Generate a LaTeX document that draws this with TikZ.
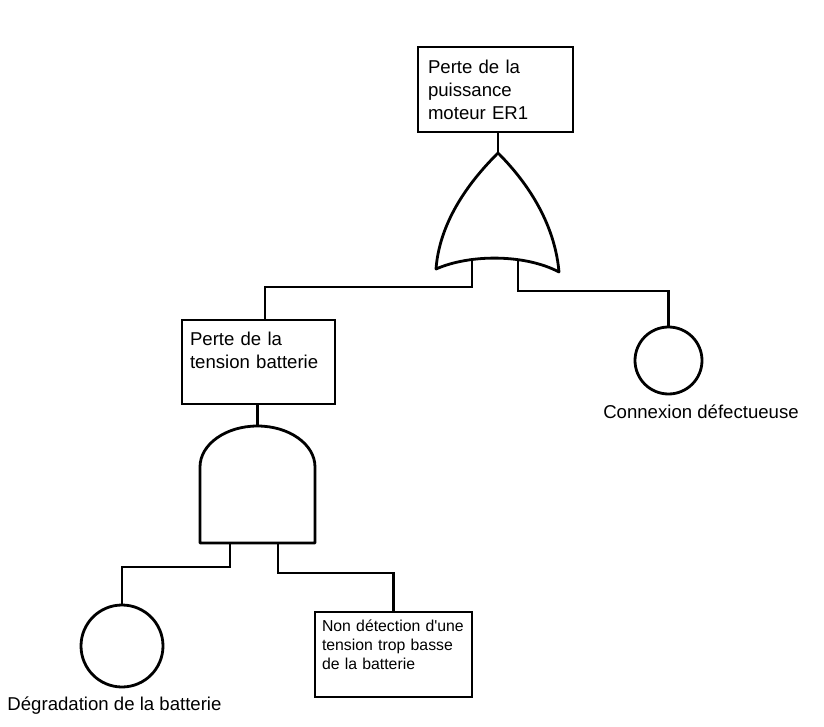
\documentclass[tikz,border=0pt]{standalone}
\usepackage{fontspec}
\setmainfont{Liberation Sans}
\begin{document}
\begin{tikzpicture}
  [x=1pt,y=-1pt,line width=2.8pt,
   every node/.style={font=\fontsize{18.6}{23}\selectfont},
   event/.style={rectangle,draw,align=left,minimum height=85pt,inner ysep=0pt},
   basic/.style={circle,draw,inner sep=0pt},
   gate/.style={draw,fill=white,line join=round}]
  \useasboundingbox (0,0) rectangle (824,727);
  \node[event,inner xsep=10pt,text width=135pt] (top) at (495.5,89.5) {Perte de la\\puissance\\moteur ER1};
  \node[event,inner xsep=8pt,text width=137pt,minimum height=84pt] (batt) at (258.5,362) {Perte de la\\tension batterie\\ \mbox{}};
  \node[basic,minimum size=67pt] (conn) at (668.5,360.5) {};
  \node (connlbl) at (701,412) {Connexion défectueuse};
  \node[basic,minimum size=82pt] (deg) at (122,646) {};
  \node (deglbl) at (114.5,706) {Dégradation de la batterie};
  \node[event,inner xsep=7pt,text width=143pt,font=\fontsize{15.8}{19}\selectfont] (detect) at (393.5,654.5) {Non détection d\textquotesingle une\\tension trop basse\\de la batterie\\ \mbox{}};
  \coordinate (orapex) at (498,153);
  \coordinate (orL) at (472,259);
  \coordinate (orR) at (518,259);
  \coordinate (andtop) at (257.5,426);
  \coordinate (andL) at (230,543);
  \coordinate (andR) at (278,543);
  \draw (orapex) -- (orapex |- top.south);
  \draw (orL) -- ++(0,28) -| ([xshift=6.5pt]batt.north);
  \draw (orR) -- ++(0,32) -| (conn.north);
  \draw (andtop) -- (andtop |- batt.south);
  \draw (andL) -- ++(0,24) -| (deg.north);
  \draw (andR) -- ++(0,30) -| (detect.north);
  \draw[gate] (orapex) .. controls (478,173) and (440,215) .. (436,269)
    .. controls (470,254) and (525,254) .. (559,272)
    .. controls (554,215) and (518,173) .. (orapex);
  \draw[gate] (200,543) -- (200,467) arc[start angle=180,end angle=0,x radius=57.5pt,y radius=41pt] -- (315,543) -- cycle;
\end{tikzpicture}
\end{document}
